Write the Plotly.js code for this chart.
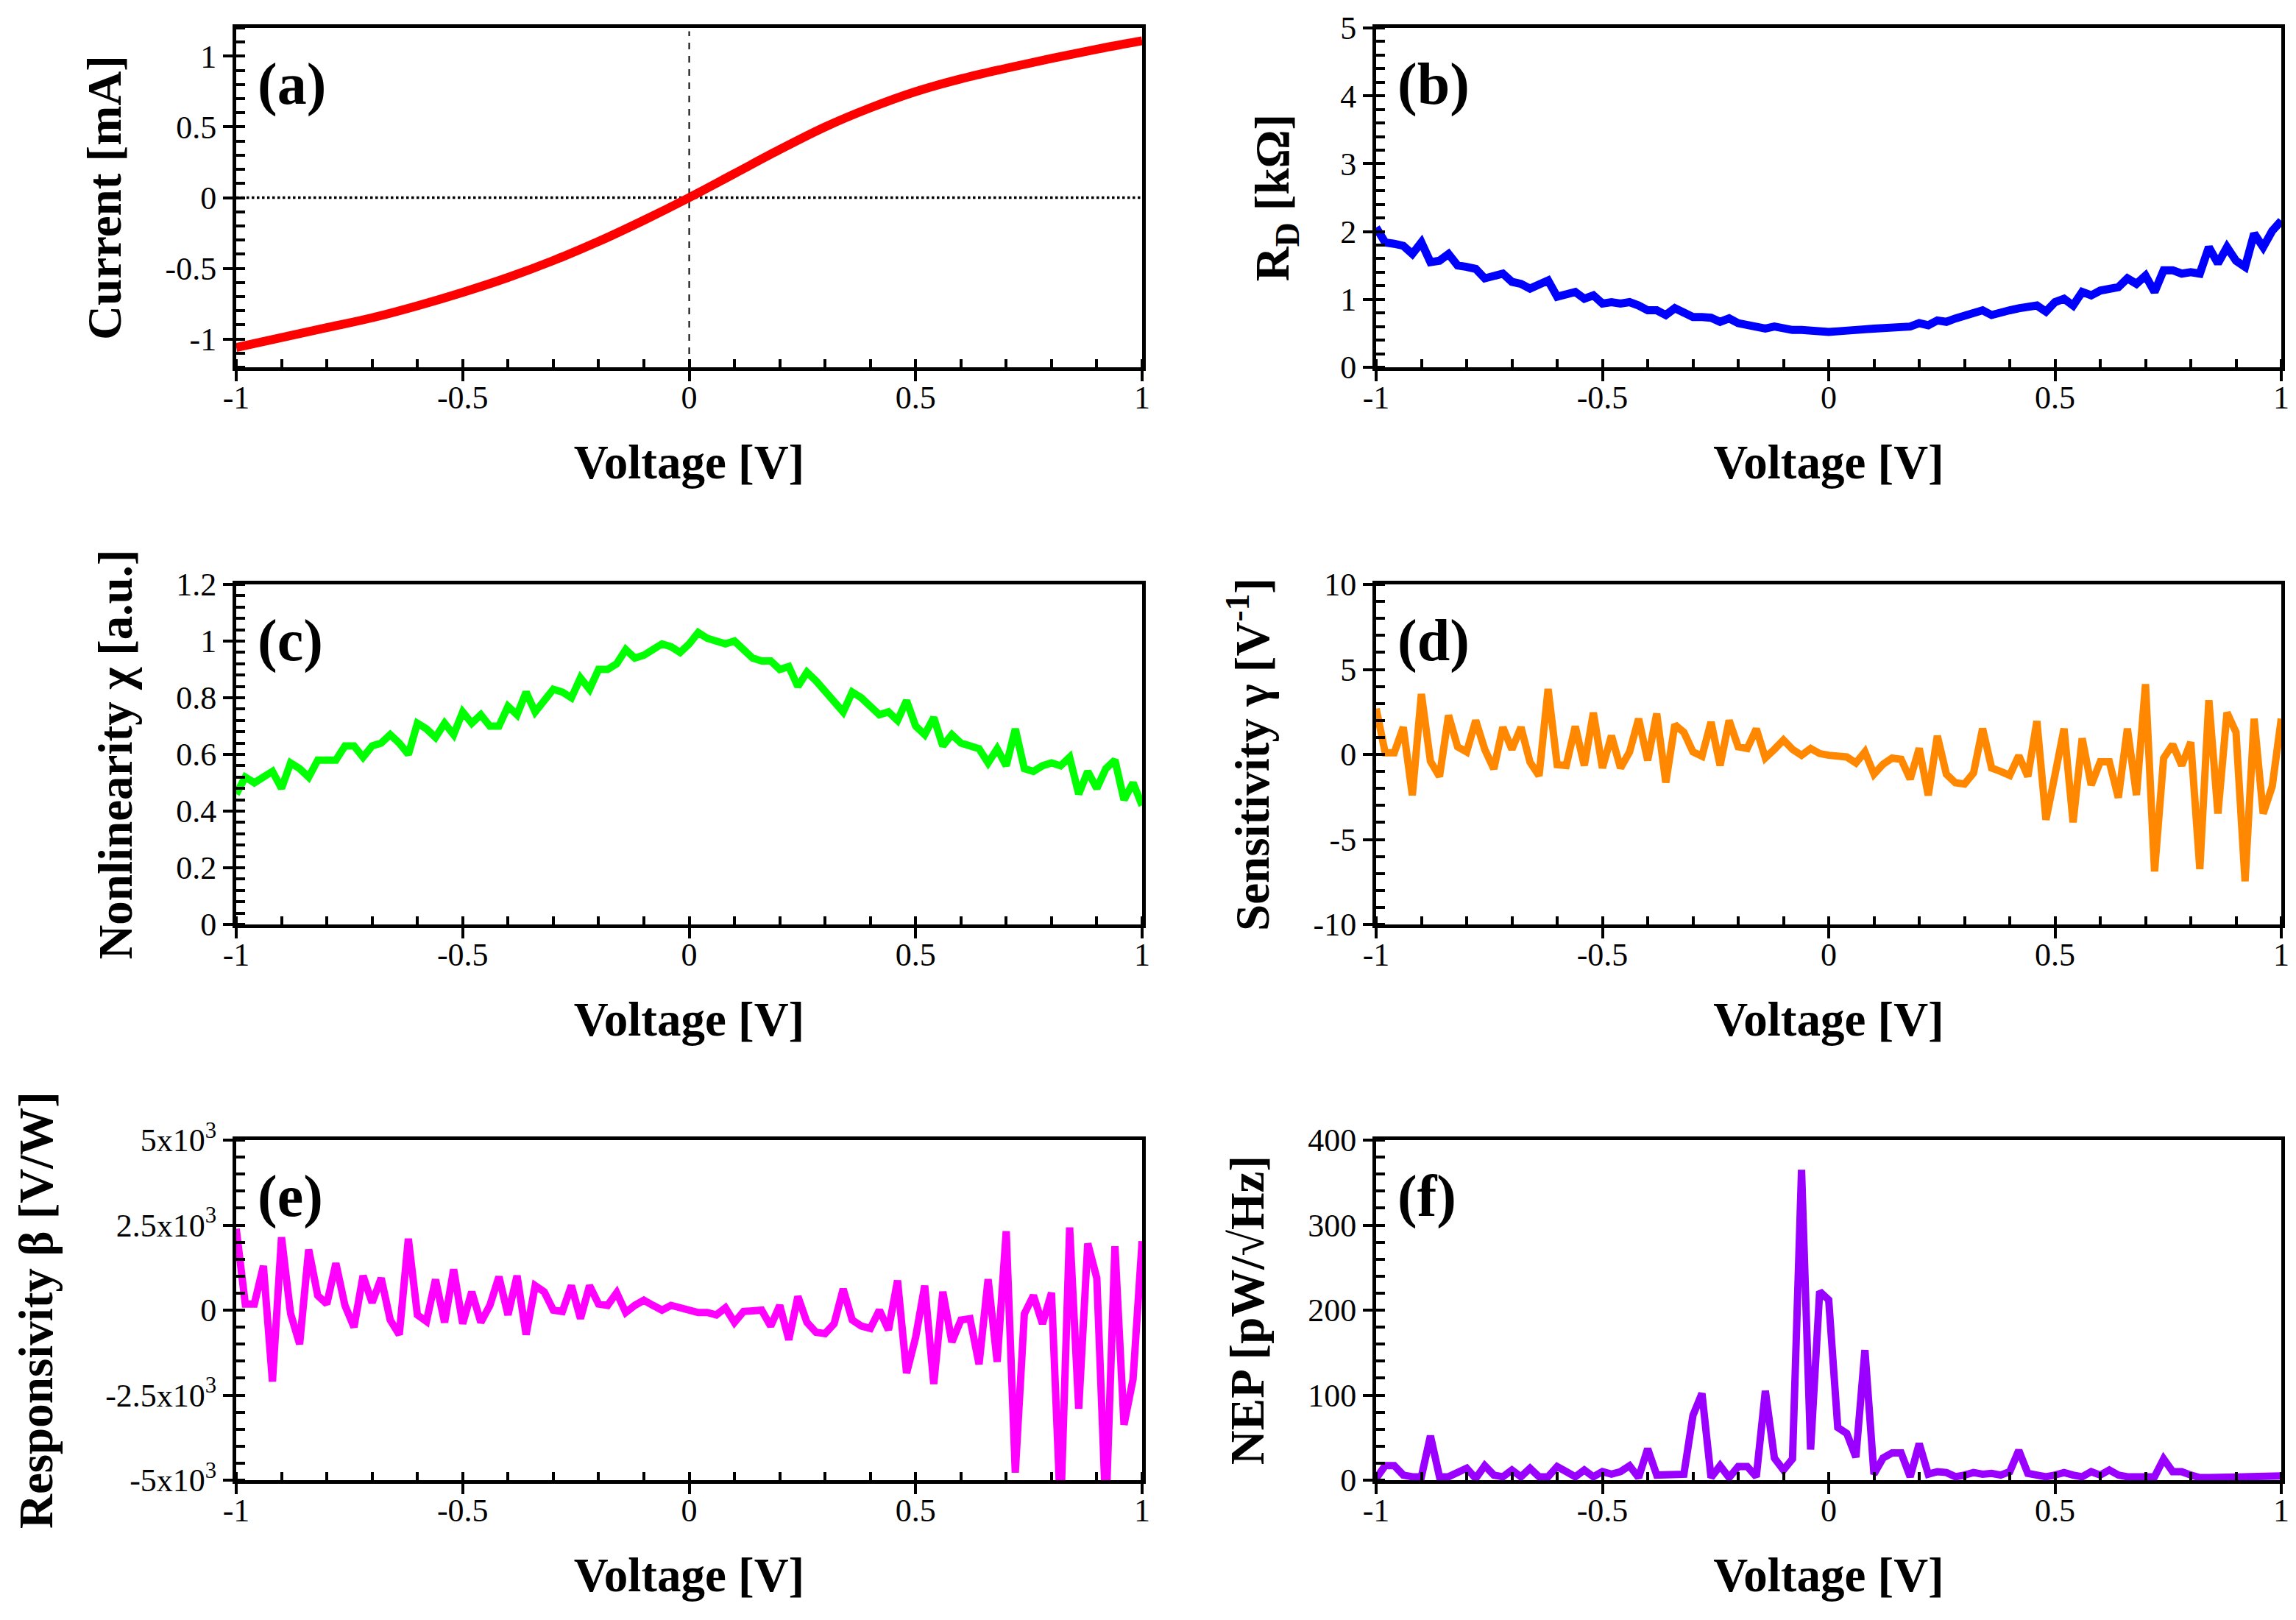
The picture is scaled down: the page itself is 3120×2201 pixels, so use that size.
<!DOCTYPE html>
<html>
<head>
<meta charset="utf-8">
<script src="https://cdn.plot.ly/plotly-3.0.1.min.js"></script>
<style>html,body{margin:0;padding:0;background:#fff}</style>
</head>
<body>
<div id="chart"></div>
<script>
// voltage sweep: every series shares the same grid, (a) is read at coarser steps
const SWEEP_START = -1;
const SWEEP_STEP = 0.02;
const IV_STEP = 0.1;

// (a) current [mA]
const currentMA = [-1.06, -0.99, -0.92, -0.85, -0.765, -0.67, -0.565, -0.445, -0.31, -0.16,
    0, 0.17, 0.34, 0.50, 0.635, 0.75, 0.84, 0.915, 0.985, 1.05, 1.11];

// (b) differential resistance [kOhm]
const rdKOhm = [2.06, 1.84, 1.82, 1.79, 1.67, 1.84, 1.55, 1.57, 1.67, 1.50,
    1.48, 1.45, 1.31, 1.33, 1.38, 1.26, 1.23, 1.16, 1.21, 1.28,
    1.04, 1.06, 1.11, 1.01, 1.06, 0.94, 0.96, 0.94, 0.96, 0.91,
    0.84, 0.84, 0.77, 0.87, 0.79, 0.74, 0.74, 0.73, 0.67, 0.72,
    0.65, 0.62, 0.60, 0.57, 0.60, 0.57, 0.55, 0.55, 0.53, 0.52,
    0.52, 0.53, 0.55, 0.54, 0.56, 0.57, 0.58, 0.60, 0.60, 0.60,
    0.65, 0.62, 0.69, 0.67, 0.72, 0.77, 0.82, 0.84, 0.77, 0.82,
    0.84, 0.87, 0.89, 0.91, 0.82, 0.96, 1.01, 0.91, 1.11, 1.06,
    1.13, 1.16, 1.18, 1.31, 1.23, 1.35, 1.11, 1.43, 1.43, 1.38,
    1.40, 1.38, 1.77, 1.53, 1.77, 1.57, 1.48, 1.97, 1.77, 2.01,
    2.16];

// (c) nonlinearity chi [a.u.]
const chi = [0.46, 0.52, 0.50, 0.52, 0.54, 0.48, 0.57, 0.55, 0.52, 0.58,
    0.58, 0.58, 0.63, 0.63, 0.59, 0.63, 0.64, 0.67, 0.64, 0.60,
    0.71, 0.69, 0.66, 0.71, 0.67, 0.75, 0.71, 0.74, 0.70, 0.70,
    0.77, 0.74, 0.82, 0.75, 0.79, 0.83, 0.82, 0.80, 0.87, 0.83,
    0.90, 0.90, 0.92, 0.97, 0.94, 0.95, 0.97, 0.99, 0.98, 0.96,
    0.99, 1.03, 1.01, 1.00, 0.99, 1.00, 0.97, 0.94, 0.93, 0.93,
    0.90, 0.91, 0.84, 0.89, 0.86, 0.82, 0.78, 0.75, 0.82, 0.80,
    0.77, 0.74, 0.75, 0.72, 0.79, 0.70, 0.67, 0.73, 0.63, 0.67,
    0.64, 0.63, 0.62, 0.57, 0.62, 0.56, 0.69, 0.55, 0.54, 0.56,
    0.57, 0.56, 0.59, 0.46, 0.54, 0.48, 0.55, 0.58, 0.44, 0.50,
    0.42];

// (d) sensitivity gamma [1/V]
const gamma = [2.7, 0.1, 0.1, 1.6, -2.4, 3.55, -0.4, -1.3, 2.3, 0.45,
    0.15, 2.0, 0.3, -0.85, 1.6, 0.3, 1.6, -0.45, -1.25, 3.85,
    -0.6, -0.65, 1.65, -0.65, 2.45, -0.8, 1.1, -0.8, 0.15, 2.1,
    -0.35, 2.4, -1.65, 1.75, 1.3, 0.15, -0.1, 1.9, -0.65, 2.0,
    0.45, 0.35, 1.5, -0.2, 0.3, 0.85, 0.3, -0.05, 0.35, 0.05,
    -0.05,
    -0.07, -0.15, -0.5, 0.15, -1.16, -0.58, -0.22, -0.29, -1.45, 0.36,
    -2.4, 1.09, -1.16, -1.67, -1.74, -1.09, 1.52, -0.8, -1.0, -1.23,
    -0.07, -1.3, 1.96, -3.84, -1.2, 1.52, -3.99, 0.94, -1.8, -0.43,
    -0.43, -2.54, 1.52, -2.39, 4.13, -6.88, -0.22, 0.58, -0.65, 0.72,
    -6.74, 3.19, -3.48, 2.46, 1.3, -7.46, 2.1, -3.48, -1.88, 2.1];

// (e) responsivity beta [V/W]
const beta = [2390, 180, 180, 1300, -2100, 2140, -100, -1000, 1780, 430,
    180, 1380, 140, -500, 1010, 220, 940, -290, -720, 2100,
    -140, -330, 900, -360, 1200, -400, 540, -360, 140, 980,
    -140, 1010, -720, 720, 540, 0, -40, 720, -250, 720,
    180, 140, 510, -70, 140, 290, 140, 0, 140, 70,
    0,
    -70, -70, -140, 70, -360, -40, 0, 0, -470, 140,
    -870, 400, -360, -650, -690, -400, 620, -290, -470, -540,
    0, -580, 870, -1850, -800, 720, -2170, 540, -940, -290,
    -250, -1590, 910, -1520, 2320, -4780, -110, 430, -400, 510,
    -6000, 2430, -2900, 1960, 940, -6000, 1880, -3370, -2030, 2030];

// (f) noise equivalent power [pW/sqrt(Hz)]
const nep = [2, 17, 17, 6, 4, 4, 52, 4, 4, 10,
    14, 2, 17, 6, 4, 12, 4, 14, 4, 4,
    16, 10, 4, 12, 4, 10,
    7, 10, 17, 3, 37, 6, 6, 7, 7, 76, 102, 3, 17, 3, 16, 16, 4, 105, 26, 12, 25, 365, 36, 222,
    212, 62, 55, 27, 153, 7, 26, 32, 32, 4, 43, 7, 10, 9, 4, 6, 9, 7,
    8, 6, 10, 35, 8, 6, 4, 6, 9, 6, 4, 10, 6, 12, 6, 4, 5, 4, 4, 25, 10, 10, 6, 3, 3, 3, 4, 5, 3, 3, 3, 3, 5];

// tick labels
const voltTicks = [-1, -0.5, 0, 0.5, 1];
const voltTickText = ['-1', '-0.5', '0', '0.5', '1'];
const currentTicks = [-1, -0.5, 0, 0.5, 1];
const currentTickText = ['-1', '-0.5', '0', '0.5', '1'];
const rdTicks = [0, 1, 2, 3, 4, 5];
const chiTicks = [0, 0.2, 0.4, 0.6, 0.8, 1, 1.2];
const gammaTicks = [-10, -5, 0, 5, 10];
const gammaTickText = ['-10', '-5', '0', '5', '10'];
const betaTicks = [-5000, -2500, 0, 2500, 5000];
const betaTickText = ['-5x10<sup>3</sup>', '-2.5x10<sup>3</sup>', '0', '2.5x10<sup>3</sup>', '5x10<sup>3</sup>'];
const nepTicks = [0, 100, 200, 300, 400];

const FONT = 'Liberation Serif, Times New Roman, serif';
const W = 3120, H = 2201;

// plot areas in px
const COLS = [[321, 1552], [1870, 3100]];
const ROWS = [[38, 499], [794, 1256], [1549, 2011]];
const xDom = c => [COLS[c][0] / W, COLS[c][1] / W];
const yDom = r => [1 - ROWS[r][1] / H, 1 - ROWS[r][0] / H];

function xAxis(col, anchor) {
    return {
        domain: xDom(col), anchor: anchor, range: [-1, 1],
        tickmode: 'array', tickvals: voltTicks, ticktext: voltTickText,
        ticks: 'outside', ticklen: 14, tickwidth: 4, tickcolor: '#000',
        ticklabelstandoff: -16,
        minor: { tick0: -1, dtick: 0.1, ticks: 'inside', ticklen: 11, tickwidth: 4, tickcolor: '#000', showgrid: false },
        showline: true, linewidth: 5, linecolor: '#000', mirror: true,
        showgrid: false, zeroline: false,
        tickfont: { family: FONT, size: 44, color: '#000' },
        title: { text: 'Voltage [V]', standoff: 42, font: { family: FONT, size: 65, color: '#000', weight: 'bold' } }
    };
}

function yAxis(row, anchor, range, vals, text, minorStep, title, standoff) {
    const ax = {
        domain: yDom(row), anchor: anchor, range: range,
        tickmode: 'array', tickvals: vals,
        ticks: 'outside', ticklen: 13, tickwidth: 4, tickcolor: '#000',
        minor: { tick0: range[0], dtick: minorStep, ticks: 'inside', ticklen: 12, tickwidth: 4, tickcolor: '#000', showgrid: false },
        showline: true, linewidth: 5, linecolor: '#000', mirror: true,
        showgrid: false, zeroline: false,
        tickfont: { family: FONT, size: 44, color: '#000' },
        title: { text: title, standoff: standoff, font: { family: FONT, size: 65, color: '#000', weight: 'bold' } }
    };
    if (text) ax.ticktext = text;
    return ax;
}

function series(y, xa, ya, color, width, step) {
    return {
        type: 'scatter', mode: 'lines',
        x0: SWEEP_START, dx: step || SWEEP_STEP, y: y,
        xaxis: xa, yaxis: ya,
        line: { color: color, width: width },
        showlegend: false, hoverinfo: 'x+y'
    };
}

const ivTrace = series(currentMA, 'x', 'y', '#ff0000', 12, IV_STEP);
ivTrace.line.shape = 'spline';
ivTrace.line.smoothing = 1;

const traces = [
    ivTrace,
    series(rdKOhm, 'x2', 'y2', '#0000ff', 11),
    series(chi, 'x3', 'y3', '#00ff00', 10),
    series(gamma, 'x4', 'y4', '#ff8800', 10),
    series(beta, 'x5', 'y5', '#ff00ff', 10),
    series(nep, 'x6', 'y6', '#9900ff', 10)
];

const panelLabels = ['(a)', '(b)', '(c)', '(d)', '(e)', '(f)'];
const annotations = panelLabels.map((t, i) => {
    const n = i === 0 ? '' : String(i + 1);
    return {
        text: '<b>' + t + '</b>', showarrow: false,
        xref: 'x' + n + ' domain', yref: 'y' + n + ' domain',
        x: 0.022, y: 0.835, xanchor: 'left', yanchor: 'middle',
        font: { family: FONT, size: 80, color: '#000' }
    };
});

const layout = {
    width: W, height: H,
    margin: { l: 0, r: 0, t: 0, b: 0 },
    paper_bgcolor: '#fff', plot_bgcolor: '#fff',
    showlegend: false,
    xaxis: xAxis(0, 'y'),
    yaxis: yAxis(0, 'x', [-1.2, 1.2], currentTicks, currentTickText, 0.1, 'Current [mA]', 40),
    xaxis2: xAxis(1, 'y2'),
    yaxis2: yAxis(0, 'x2', [0, 5], rdTicks, null, 0.2, 'R<sub>D</sub> [kΩ]', 50),
    xaxis3: xAxis(0, 'y3'),
    yaxis3: yAxis(1, 'x3', [0, 1.2], chiTicks, null, 0.04, 'Nonlinearity χ [a.u.]', 40),
    xaxis4: xAxis(1, 'y4'),
    yaxis4: yAxis(1, 'x4', [-10, 10], gammaTicks, gammaTickText, 1, 'Sensitivity γ [V<sup>-1</sup>]', 40),
    xaxis5: xAxis(0, 'y5'),
    yaxis5: yAxis(2, 'x5', [-5000, 5000], betaTicks, betaTickText, 500, 'Responsivity β [V/W]', 52),
    xaxis6: xAxis(1, 'y6'),
    yaxis6: yAxis(2, 'x6', [0, 400], nepTicks, null, 20, 'NEP [pW/√Hz]', 40),
    shapes: [
        { type: 'line', layer: 'below', xref: 'x', yref: 'y domain', x0: 0, x1: 0, y0: 0, y1: 0.99,
          line: { color: '#000', width: 2, dash: 'dash' } },
        { type: 'line', layer: 'below', xref: 'x domain', yref: 'y', x0: 0, x1: 1, y0: 0, y1: 0,
          line: { color: '#000', width: 3.5, dash: 'dot' } }
    ],
    annotations: annotations
};

Plotly.newPlot('chart', traces, layout, { staticPlot: true, displayModeBar: false });
</script>
</body>
</html>
